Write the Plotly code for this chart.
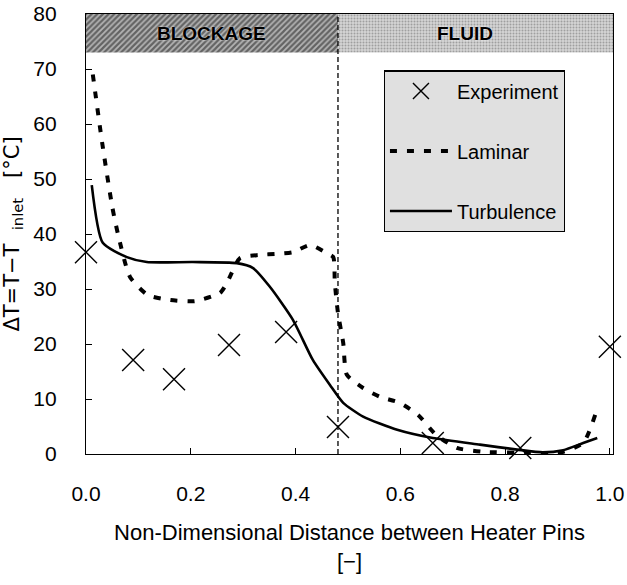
import plotly.graph_objects as go

# Experimental temperature rise between heater pins
exp_x = [0.0, 0.090, 0.168, 0.273, 0.382, 0.481, 0.662, 0.829, 1.0]
exp_y = [36.7, 17.1, 13.6, 19.8, 22.2, 4.9, 2.0, 1.1, 19.5]

# Laminar-flow calculation
lam_x = [0.013, 0.031, 0.050, 0.061, 0.084, 0.118, 0.160, 0.208, 0.256, 0.269,
         0.294, 0.332, 0.365, 0.395, 0.428, 0.460, 0.472, 0.475, 0.481, 0.491,
         0.498, 0.529, 0.561, 0.599, 0.634, 0.668, 0.708, 0.758, 0.848, 0.899,
         0.949, 0.972]
lam_y = [69.0, 56.5, 45.0, 40.0, 32.2, 28.9, 28.0, 27.8, 29.3, 31.1,
         35.6, 36.2, 36.4, 36.7, 38.0, 36.5, 35.8, 31.1, 25.6, 20.2,
         14.4, 12.0, 10.4, 9.3, 7.1, 3.5, 1.1, 0.4, 0.2, 0.1,
         2.0, 7.1]

# Turbulent-flow calculation
turb_x = [0.011, 0.032, 0.078, 0.116, 0.204, 0.288, 0.319, 0.351, 0.395, 0.433,
          0.466, 0.491, 0.529, 0.594, 0.662, 0.752, 0.823, 0.872, 0.911, 0.949,
          0.976]
turb_y = [48.9, 38.4, 35.8, 34.9, 34.9, 34.7, 33.8, 30.4, 24.4, 17.1,
          12.5, 9.3, 6.8, 4.4, 2.9, 1.7, 0.8, 0.3, 0.7, 2.0,
          2.9]

# Region boundaries and header band
boundary_x = 0.481
x_max = 1.006
band_lo, band_hi = 73, 80
region_labels = ["BLOCKAGE", "FLUID"]

x_ticks = [0.0, 0.2, 0.4, 0.6, 0.8, 1.0]
x_ticktext = ["0.0", "0.2", "0.4", "0.6", "0.8", "1.0"]
y_ticks = [0, 10, 20, 30, 40, 50, 60, 70, 80]

FONT = "Liberation Sans, Arial, sans-serif"
WIDE_FONT = "DejaVu Sans, Verdana, sans-serif"

fig = go.Figure()

# Header band: hatched blockage region, stippled fluid region
fig.add_trace(go.Bar(
    x=[boundary_x / 2], y=[band_hi - band_lo], base=[band_lo], width=[boundary_x],
    marker=dict(color="#808080", line=dict(width=0),
                pattern=dict(shape="/", fgcolor="#111111", bgcolor="#b4b4b4",
                             size=4, solidity=0.55)),
    showlegend=False, hoverinfo="skip"))
fig.add_trace(go.Bar(
    x=[(boundary_x + x_max) / 2], y=[band_hi - band_lo], base=[band_lo],
    width=[x_max - boundary_x],
    marker=dict(color="#c0c0c0", line=dict(width=0),
                pattern=dict(shape=".", fgcolor="#6a6a6a", bgcolor="#d4d4d4",
                             size=3, solidity=0.35)),
    showlegend=False, hoverinfo="skip"))

fig.add_trace(go.Scatter(
    x=exp_x, y=exp_y, mode="markers", name="Experiment", legendgroup="a",
    marker=dict(symbol="x-thin", size=22, color="black",
                line=dict(width=1.4, color="black")),
    cliponaxis=False))
fig.add_trace(go.Scatter(
    x=lam_x, y=lam_y, mode="lines", name="Laminar", legendgroup="b",
    line=dict(color="black", width=4, dash="7px,10px", shape="spline",
              smoothing=0.6)))
fig.add_trace(go.Scatter(
    x=turb_x, y=turb_y, mode="lines", name="Turbulence", legendgroup="c",
    line=dict(color="black", width=2.6, shape="spline", smoothing=0.6)))

# Dashed divider between blockage and fluid regions
fig.add_shape(type="line", x0=boundary_x, x1=boundary_x, y0=0, y1=band_hi,
              line=dict(color="black", width=1.3, dash="5px,3px"))

for label, xc in zip(region_labels, [boundary_x * 0.5, (boundary_x + x_max) / 2 - 0.02]):
    fig.add_annotation(x=xc, y=(band_lo + band_hi) / 2, text="<b>" + label + "</b>",
                       showarrow=False,
                       font=dict(family=FONT, size=19, color="black",
                                 shadow="0px 0px 2px white"))

fig.update_layout(
    width=627, height=585,
    margin=dict(l=86, r=14, t=14, b=131, autoexpand=False),
    paper_bgcolor="white", plot_bgcolor="white",
    barmode="overlay",
    font=dict(family=FONT, color="black", size=20),
    legend=dict(x=0.565, y=0.872, xanchor="left", yanchor="top",
                bgcolor="#e0e0e0", bordercolor="black", borderwidth=1.2,
                font=dict(family=FONT, size=20, color="black"),
                itemwidth=62, tracegroupgap=31, traceorder="grouped"),
    xaxis=dict(range=[0, x_max], tickvals=x_ticks, ticktext=x_ticktext,
               ticks="inside", ticklen=6, tickcolor="black", automargin=False,
               showline=True, linecolor="black", linewidth=1.3, mirror=True,
               showgrid=False, zeroline=False, ticklabelstandoff=21,
               tickfont=dict(family=FONT, size=21),
               title=dict(text="Non-Dimensional Distance between Heater Pins<br>[−]",
                          font=dict(family=FONT, size=22), standoff=20)),
    yaxis=dict(range=[0, 80], tickvals=y_ticks, automargin=False,
               ticks="inside", ticklen=6, tickcolor="black",
               showline=True, linecolor="black", linewidth=1.3, mirror=True,
               showgrid=False, zeroline=False, ticklabelstandoff=24,
               tickfont=dict(family=FONT, size=21),
               title=dict(text="ΔT=T−T  <sub>inlet</sub>   [°C]",
                          font=dict(family=WIDE_FONT, size=21), standoff=10)),
)

fig.write_html("out.html")
